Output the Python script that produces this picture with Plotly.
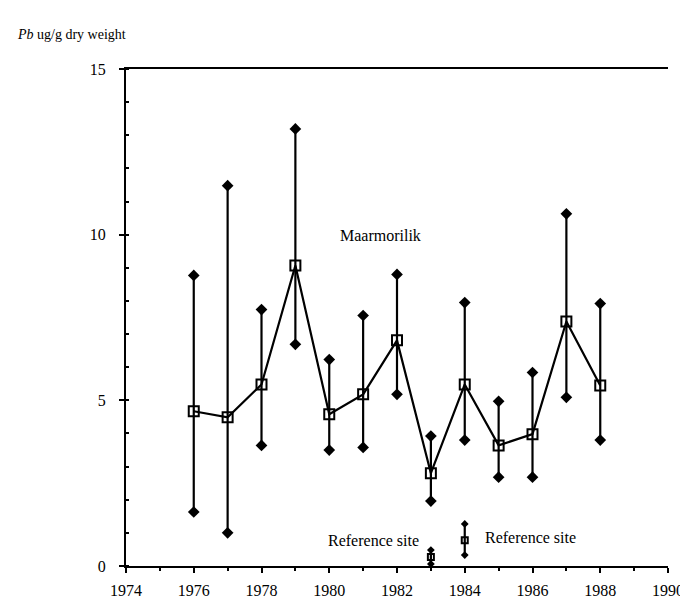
import plotly.graph_objects as go

years = [1976, 1977, 1978, 1979, 1980, 1981, 1982, 1983, 1984, 1985, 1986, 1987, 1988]
pb_mean = [4.67, 4.49, 5.48, 9.07, 4.58, 5.18, 6.81, 2.8, 5.48, 3.64, 3.98, 7.38, 5.45]
pb_max = [8.77, 11.48, 7.74, 13.19, 6.23, 7.56, 8.8, 3.92, 7.95, 4.97, 5.84, 10.63, 7.92]
pb_min = [1.63, 1.0, 3.64, 6.69, 3.5, 3.58, 5.18, 1.96, 3.8, 2.68, 2.68, 5.09, 3.8]

ref_years = [1983, 1984]
ref_mean = [0.27, 0.78]
ref_max = [0.48, 1.27]
ref_min = [0.06, 0.33]

x_ticks = [1974, 1976, 1978, 1980, 1982, 1984, 1986, 1988, 1990]
y_ticks = [0, 5, 10, 15]

FONT = "Liberation Serif"
tickfont = dict(family=FONT, size=16, color="black")

fig = go.Figure()


def add_site(xs, means, mins, maxs, msize, dsize, connect):
    segx, segy = [], []
    for x, lo, hi in zip(xs, mins, maxs):
        segx += [x, x, None]
        segy += [lo, hi, None]
    fig.add_trace(go.Scatter(x=segx, y=segy, mode="lines",
                             line=dict(color="black", width=2.2),
                             hoverinfo="skip", showlegend=False))
    fig.add_trace(go.Scatter(x=xs + xs, y=mins + maxs, mode="markers",
                             marker=dict(symbol="diamond", size=dsize, color="black"),
                             showlegend=False))
    fig.add_trace(go.Scatter(x=xs, y=means, mode="lines+markers" if connect else "markers",
                             line=dict(color="black", width=2.2),
                             marker=dict(symbol="square-open", size=msize, color="black",
                                         line=dict(width=2)),
                             showlegend=False))


add_site(years, pb_mean, pb_min, pb_max, 10, 9, True)
add_site(ref_years, ref_mean, ref_min, ref_max, 6, 6, False)

fig.add_annotation(x=1981.5, y=9.97, text="Maarmorilik", showarrow=False,
                   font=dict(family=FONT, size=16, color="black"))
fig.add_annotation(x=1982.7, y=0.78, text="Reference site", showarrow=False,
                   xanchor="right", font=dict(family=FONT, size=16, color="black"))
fig.add_annotation(x=1984.55, y=0.85, text="Reference site", showarrow=False,
                   xanchor="left", font=dict(family=FONT, size=16, color="black"))
fig.add_annotation(x=-0.205, y=1.07, xref="paper", yref="paper",
                   text="<i>Pb</i> ug/g dry weight", showarrow=False,
                   xanchor="left", yanchor="middle",
                   font=dict(family=FONT, size=14, color="black"))

fig.update_layout(
    width=688, height=603,
    margin=dict(l=118, r=20, t=61, b=44),
    paper_bgcolor="white", plot_bgcolor="white",
    font=dict(family=FONT, size=16, color="black"),
    xaxis=dict(range=[1974, 1990], tickvals=x_ticks, showgrid=False, zeroline=False,
               showline=True, linecolor="black", linewidth=2, mirror=True,
               ticks="outside", ticklen=5, tickwidth=1.5, tickcolor="black",
               ticklabelstandoff=4, tickfont=tickfont,
               minor=dict(dtick=1, ticks="outside", ticklen=3, tickcolor="black")),
    yaxis=dict(range=[0, 15], tickvals=y_ticks, showgrid=False, zeroline=False,
               showline=True, linecolor="black", linewidth=2,
               ticks="outside", ticklen=5, tickwidth=1.5, tickcolor="black",
               ticklabelstandoff=10, tickfont=tickfont,
               minor=dict(dtick=1, ticks="inside", ticklen=3, tickcolor="black")),
)

fig.write_html("out.html")
